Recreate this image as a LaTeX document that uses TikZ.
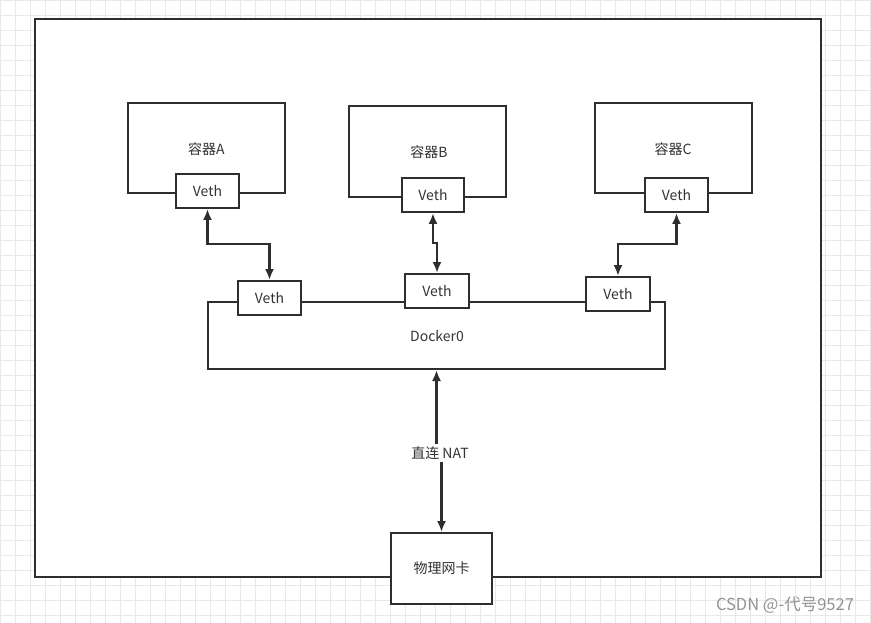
\documentclass[tikz,border=0pt]{standalone}
\usepackage{fontspec}
\setmainfont{Noto Sans CJK SC}
\usetikzlibrary{arrows.meta}
\definecolor{ln}{HTML}{2E2E2E}
\definecolor{tx}{HTML}{333333}
\definecolor{gridc}{HTML}{E8E8E8}
\begin{document}
\begin{tikzpicture}[x=1pt,y=-1pt,
  >={Latex[length=11pt,width=9pt]},
  bx/.style={draw=ln,line width=2pt,fill=white,rectangle,inner sep=0pt,text=tx,font=\fontsize{14}{16}\selectfont},
  vethbox/.style={bx,minimum width=63pt,minimum height=34pt},
  conn/.style={draw=ln,line width=2.4pt},
  lbl/.style={text=tx,font=\fontsize{14}{16}\selectfont,inner sep=2pt}]
\useasboundingbox (0,0) rectangle (871,623);
\fill[white] (0,0) rectangle (871,623);
\foreach \gx in {0,15,...,870} \draw[gridc,line width=0.7pt] (\gx,0) -- (\gx,623);
\foreach \gy in {0,15,...,622} \draw[gridc,line width=0.7pt] (0,\gy) -- (871,\gy);
\node[bx,minimum width=786pt,minimum height=558pt] (outer) at (428,298) {};
% containers
\node[bx,minimum width=157pt,minimum height=90pt] (ca) at (206.5,148) {};
\node[lbl] at (206.5,149) {容器A};
\node[bx,minimum width=157pt,minimum height=91pt] (cb) at (427.5,151.5) {};
\node[lbl] at (429,152) {容器B};
\node[bx,minimum width=157pt,minimum height=90pt] (cc) at (673.5,148) {};
\node[lbl] at (673,149) {容器C};
\node[vethbox] (va) at (207.5,191) {Veth};
\node[vethbox,minimum width=62pt] (vb) at (433,195) {Veth};
\node[vethbox] (vc) at (676.5,195) {Veth};
% docker0
\node[bx,minimum width=457pt,minimum height=67pt] (dk) at (436.5,335.5) {};
\node[lbl] at (437,336) {Docker0};
\node[vethbox] (v1) at (269.5,298) {Veth};
\node[vethbox,minimum width=64pt] (v2) at (437,291) {Veth};
\node[vethbox,minimum width=64pt] (v3) at (618,294) {Veth};
% physical card
\node[bx,minimum width=101pt,minimum height=71pt] (card) at (441.5,568.5) {物理网卡};
% links
\coordinate (ya) at (0,244);
\coordinate (yb) at (0,243);
\coordinate (yc) at (0,244);
\draw[conn,<->] (va.south) -- (va.south |- ya) -| (v1.north);
\draw[conn,<->] (vb.south) -- (vb.south |- yb) -| (v2.north);
\draw[conn,<->] (vc.south) -- (vc.south |- yc) -| (v3.north);
\node[lbl] (nat) at (440,453) {直连 NAT};
\draw[conn,->] (nat.north -| dk.south) -- (dk.south);
\draw[conn,->] (nat.south -| card.north) -- (card.north);
% watermark
\node[text=gray!85,font=\fontsize{16.5}{19}\selectfont,inner sep=0pt] (wm) at (785,605) {CSDN @-代号9527};
\end{tikzpicture}
\end{document}
